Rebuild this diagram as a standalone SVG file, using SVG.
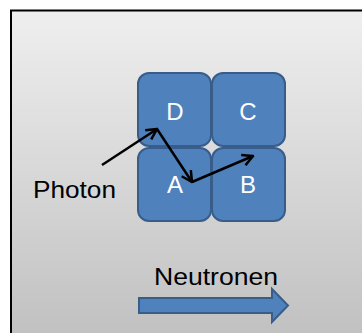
<svg xmlns="http://www.w3.org/2000/svg" width="362" height="333" viewBox="0 0 362 333">
  <defs>
    <linearGradient id="bg" x1="0" y1="0" x2="0" y2="1">
      <stop offset="0" stop-color="#efefef"/>
      <stop offset="1" stop-color="#c0c0c0"/>
    </linearGradient>
    <marker id="open" viewBox="0 0 14 14" refX="12.5" refY="7" markerWidth="14" markerHeight="14" markerUnits="userSpaceOnUse" orient="auto">
      <path d="M2,1.5 L12.5,7 L2,12.5" fill="none" stroke="#000" stroke-width="2.5"/>
    </marker>
  </defs>
  <style>
    .cell { fill: #4f81bd; stroke: #385d8a; stroke-width: 2; }
    .lbl { font-family: "Liberation Sans", Arial, sans-serif; font-size: 24px; fill: #ffffff; text-anchor: middle; }
    .txt { font-family: "Liberation Sans", Arial, sans-serif; font-size: 24px; fill: #000000; }
    .conn { fill: none; stroke: #000; stroke-width: 2.5; marker-end: url(#open); }
  </style>
  <rect x="0" y="0" width="362" height="333" fill="#ffffff"/>
  <rect id="frame" x="11" y="10.5" width="360" height="330" fill="url(#bg)" stroke="#000" stroke-width="2"/>

  <g id="node-D">
    <rect class="cell" x="138" y="73" width="73" height="73" rx="11"/>
    <text class="lbl" x="175" y="120">D</text>
  </g>
  <g id="node-C">
    <rect class="cell" x="212" y="73" width="73" height="73" rx="11"/>
    <text class="lbl" x="248" y="120">C</text>
  </g>
  <g id="node-A">
    <rect class="cell" x="138" y="148" width="73" height="73" rx="11"/>
    <text class="lbl" x="175" y="193">A</text>
  </g>
  <g id="node-B">
    <rect class="cell" x="212" y="148" width="73" height="73" rx="11"/>
    <text class="lbl" x="248" y="193">B</text>
  </g>

  <g id="photon-label">
    <text class="txt" x="33" y="198" textLength="83" lengthAdjust="spacingAndGlyphs">Photon</text>
  </g>

  <g id="connectors">
    <line class="conn" x1="102" y1="165" x2="157" y2="129"/>
    <line class="conn" x1="157" y1="129" x2="192" y2="182"/>
    <line class="conn" x1="192" y1="182" x2="253" y2="156"/>
  </g>

  <g id="neutronen">
    <text class="txt" x="154" y="285" textLength="124" lengthAdjust="spacingAndGlyphs">Neutronen</text>
    <path d="M139,298 L272,298 L272,289 L288,305.5 L272,322 L272,313 L139,313 Z" fill="#4f81bd" stroke="#385d8a" stroke-width="2"/>
  </g>
</svg>
